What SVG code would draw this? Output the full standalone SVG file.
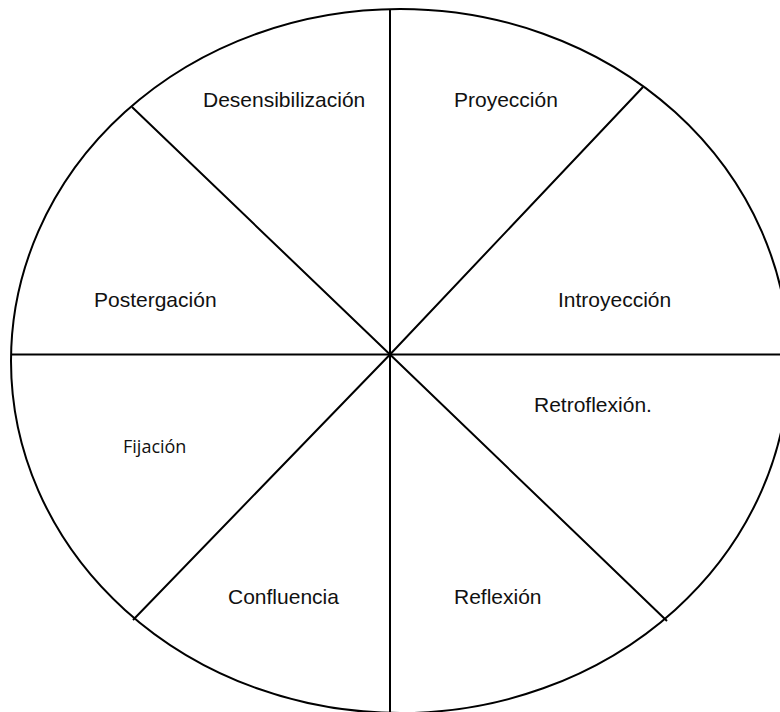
<svg xmlns="http://www.w3.org/2000/svg" width="780" height="712" viewBox="0 0 780 712">
  <style>
    .ln { fill: none; stroke: #000; stroke-width: 2; }
    .lbl { font-family: "Liberation Sans", Arial, sans-serif; font-size: 21px; fill: #111; }
    .lbl2 { font-family: "Open Sans", "Noto Sans", sans-serif; font-size: 18px; fill: #111; }
  </style>
  <rect x="0" y="0" width="780" height="712" fill="#fff"/>
  <g id="wheel">
    <ellipse class="ln" cx="400" cy="361" rx="389" ry="352"/>
  </g>
  <g id="connectors">
    <line class="ln" x1="390" y1="9" x2="390" y2="712"/>
    <line class="ln" x1="11" y1="354.5" x2="780" y2="354.5"/>
    <path class="ln" d="M132,107 L390,354.5 L667,621"/>
    <path class="ln" d="M643,87 L390,354.5 L133,620"/>
  </g>
  <g id="desensibilizacion"><text class="lbl" x="203" y="107">Desensibilización</text></g>
  <g id="proyeccion"><text class="lbl" x="454" y="107">Proyección</text></g>
  <g id="postergacion"><text class="lbl" x="94" y="307">Postergación</text></g>
  <g id="introyeccion"><text class="lbl" x="558" y="307">Introyección</text></g>
  <g id="retroflexion"><text class="lbl" x="534" y="412">Retroflexión.</text></g>
  <g id="fijacion"><text class="lbl2" x="123" y="453">Fijación</text></g>
  <g id="confluencia"><text class="lbl" x="228" y="604">Confluencia</text></g>
  <g id="reflexion"><text class="lbl" x="454" y="604">Reflexión</text></g>
</svg>
